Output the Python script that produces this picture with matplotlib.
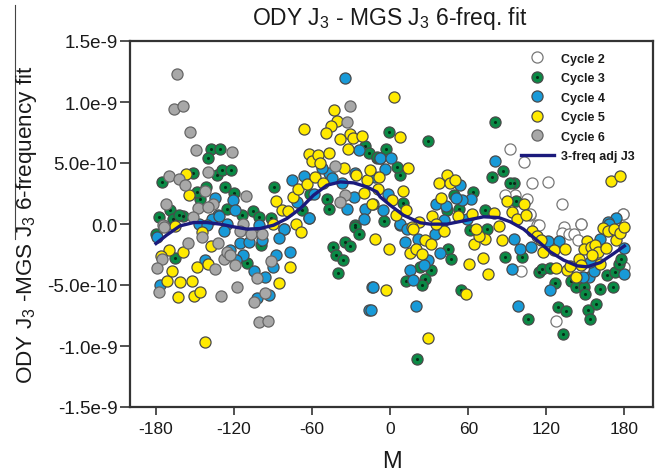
import matplotlib
matplotlib.use("Agg")
import matplotlib.pyplot as plt
from matplotlib.lines import Line2D
import numpy as np

plt.rcParams["font.family"] = ["Liberation Sans", "DejaVu Sans"]
plt.rcParams["mathtext.fontset"] = "custom"
plt.rcParams["mathtext.rm"] = "Liberation Sans"
plt.rcParams["mathtext.default"] = "rm"
plt.rcParams["axes.unicode_minus"] = False

# M in degrees, residuals in units of 1e-10
c2_m = [91.8, 102.5, 109, 121.5, 132, 146.7, 179, 105.1, 96.1, 88.4, 112.8, 133.3, 107.7,
        100.5, 127.7, 146.9, 132, 137.2, 141.5, 144.1, 114.1, 107.7, 180, 179]
c2_j = [6.16, 5.09, 3.37, 3.43, 1.62, 0.04, 0.83, 2.09, 2.36, 2.36, -0.1, -0.24, 0.72,
        -3.87, -7.94, 0.04, -0.7, -0.78, -0.78, -1.33, -0.1, 0.86, -3.51, 0.78]

c3_m = [-137.9, -130.7, -139.9, -151.7, -133.3, -129.2, -122, -175.6, -141.5, -127.1, -120.4,
        -146.1, -148.6, -125.6, -169.2, -177.6, -167.1, -158.9, -162.7, -114, -105.8, -101.2,
        -91.5, -89.2, -48.6, -46.9, -67.9, -61.5, -19.2, -16.6, -10.2, -26.9, -180,
        -165.3, -109.7, -99.2, -44.3, -42, -36.3, -34.5, -31.2, -40.4, -27.4, -24.3,
        80.2, 28.7, -0.8, -3.1, 86.6, 78.2, 95.4, 91.8, 7.7, 5.1, 63.3, 10.2, -5.1, -10.3,
        96.9, 52.5, 73, 48.7, 44.8, 46.9, 31.5, 23, 12.3, 26.4, 24.3, 54.3, 88.4, 101.5,
        114.1, 116.6, 123.1, 126.9, 139.2, 143.1, 148.7, 150, 161.5, 171.3, 166.6, 173,
        175.6, 177.4, 158.4, 151.8, 153.8, 129, 135.4, 105.6, 132.8, 20.5, 61.5, 74.3, 43.6]
c3_j = [6.13, 6.18, 5.37, 4.16, 4.05, 4.41, 4.41, 3.48, 3.04, 3.02, 2.58,
        2.09, 2.63, 1.21, 1.13, 0.61, 0.45, 0.64, 0.72, 0.77, 1.1, 0.58,
        0.5, 3.02, 2.09, 1.21, 1.13, 2.5, 6.4, 5.86, 5.37, -0.1, -0.78,
        -2.77, -3.18, -1.73, -1.87, -2.55, -2.96, -1.46, -1.79, -4, -0.23, -0.86,
        8.34, 6.79, 7.52, 6.18, 4.33, 3.83, 3.37, 3.37, 4, 4.68, 2.63, 1.73, 0.26, 5.5,
        1.87, 1.27, 1.13, 2.36, -2.01, -2.83, -3.73, -3.51, -4.66, -4.52, -4.96, -5.42, -2.69, -2.69,
        -3.92, -3.65, -3.59, -4.82, -4.69, -5.2, -5.15, -5.7, -5.29, -5.2, -4.14, -3.92,
        -3.24, -2.88, -6.52, -7.06, -7.75, -6.79, -7.12, -7.75, -9.03, -11.08, -0.51, -0.37, 1.13]

c4_m = [-35, -24.3, -121.2, -119.4, -134.5, -75.6, -66.6, -62.2, -33.3, -28.1, -26.9, -47.4,
        -44.8, -37.1, -52.5, -58.9, -71.7, -19.2, -132, -137.1, -125.6, -100.7, -20.4, -7.6, -81.5,
        -179.4, -146.8, -141, -131.7, -127.6, -115.3, -108.9, -113.3, -123, -98.6, -82, -85.6,
        -62.7, -87.6, -77.4, -89.7, -142.2, -105, -96.1, -93.5, -102.5, -176.8, -14, -16.1, -118.4,
        80.8, -7.7, 0.5, -3.9, -11.6, -5.7, -2, 62, 55.1, 50.8, 35.4, 43.1, 53.8, 173.8, 167.2,
        7.7, 41, 59, 7.2, 12.8, 34.1, 11, 21.3, 38.4, 28.7, 25.6, 15.4, 17.4, 19.7, -13.3, -14.6,
        97.9, 93.6, 100, 95.4, 108.2, 121.3, 129.5, 123.1, 152.5, 156.9, 180, 180, 168, 161.5,
        148.2, 153.8]
c4_j = [11.98, 6.05, 1.95, 1.18, 2.14, 3.59, 3.92, 0.53, 1.26, 2.22, 4.14, 4.14,
        3.73, 3.32, 4.55, 2.5, 1.81, 1.21, 0.72, 0.45, 0.04, -0.1, 0.39, 5.42, -0.37,
        -1.05, 0.04, -0.1, 0.67, -0.56, -1.54, -1.46, -2.5, -2.15, -1.33, -0.45, -1.13,
        0.5, -2.5, -2.31, -3.51, -2.96, -3.84, -4.33, -5.83, -6.05, -4.96, -5.2, -7.06, -2.96,
        5.17, 5.45, 5.45, 4.49, 3.86, 1.13, 2.5, 2.03, 2, 2.14, 1.68, 1.46, 3.18, 0.53, 0.17,
        -0.1, 0.31, 0.45, -0.01, -0.37, -0.78, -1.46, -1.24, -2.36, -2.91, -3.37, -3.73, -4.6, -6.73, -5.2, -7.06,
        -6.71, -3.7, -2.09, -1.24, -1.87, -1.38, -1.43, -5.42, -4.33, -3.87, -4.11, -1.93, 0.04, -1.19,
        -4.33, -3.1]

c5_m = [-156.6, -154.8, -165.6, -87.6, -83.3, -78.9, -72.5, -74.8, -70.7, -64, -57.9, -51.7,
        -66.1, -43, -40.9, -45.6, -49.7, -38.9, -32.5, -31.2, -28.9, -21.7, -62.5, -59.9, -55.8,
        -53.8, -47.1, -35.8, -26, -17.9, -15.3, -20.4, -13.3, -8.9,
        -169.7, -159.2, -176, -167.6, -148.6, -140.4, -137.9, -171.7, -161.5, -152.7, -163.3,
        -150.7, -146.3, -142.2, -76.9, -85.3, -68.4, -144.3, -90.2, -11.5,
        3.3, 7.7, 13.6, 37.2, 43.6, 46.1, 50, 39, 9.5, 1.3, -9.5, -14.1, 12, 4.6, 89.7, 102.5,
        93.6, 97.4, 104.6, 79.5, 52, 62.8, 32.5, 169.7, 176.4, 22.5, 16.6, 83.3,
        -0.8, -3.1, 15.4, 19.7, 24.3, 26.4, 31, 28.7, 60.2, 71, 75.1, 58.2, 64.6, 73, 68, 66.1,
        85.9, 41.5, 17.4, 35.1, 109, 112.8, 115.9, 117.4, 125.6, 134.6, 127.4, 135.9, 144.8,
        146.6, 142.8, 138.4, 151.3, 148.7, 154.3, 157.7, 159.5, 155.1, 161.5, 165.9, 173.8,
        163.3, 167.2, 171.8, 176.4, 180]
c5_j = [4.1, 2.39, -0.15, 1.9, 1.18, 1.1, 0.04, 2.22, 2.9, 3.26, 3.86, 3.32,
        7.82, 9.38, 8.45, 8.07, 7.5, 6.95, 6.18, 7.39, 7.09, 7.2, 5.75, 5.2, 5.69,
        4.96, 5.8, 4.55, 4, 3.64, 4.44, 2.55, 1.68, 3.86,
        -2.12, -2.31, -2.61, -3.84, -3.51, -3.24, -1.82, -4.71, -4.74, -4.66, -6,
        -5.92, -5.59, -9.66, -3.51, -4.8, -0.67, -0.64, 0.01, -1.19,
        10.42, 7.14, 4.55, 3.34, 4.05, 3.32, 3.59, 2.17, 2.69, 2, 2.9, 1.68, 1.13, 0.77, 1.9, 1.65,
        1, 0.37, 0.72, 0.91, 0.64, 0.86, 0.67, 3.51, 3.92, 0.17, -0.24, -0.15,
        -2.09, -5.42, -2.36, -2.06, -2.47, -1.33, -1.6, -9.33, -3.24, -2.75, -4.11, -5.7, -1.6, -1.22, -1, -0.42,
        -1.3, -0.56, -0.37, 0.04, -0.59, -0.97, -1.33, -2.28, -2.15, -2.06, -3.59, -3.78, -2.83,
        -3.37, -4.33, -3.43, -1.38, -2.06, -1.87, -1.74, -2.28, -2.55, -3.24, -1.95, -1.33,
        -0.29, -0.59, -0.37, -0.7, -0.23]

c6_m = [-163.8, -166, -159.4, -153.5, -148.9, -121.5, -170.2, -140.4, -162, -157.4, -142.2,
        -111.2, -172.2, -136.3, -147.4, -139.7, -151.2, -113.3, -174.3,
        -33.3, -30.7, -42.2, -35, -38.4,
        -173.8, -144.8, -155.3, -132.2, -175.6, -179.4, -134.5, -128.1, -125.6, -123.5, -119.2,
        -117.9, -102.5, -130.2, -177.6, -96.3, -104.8, -100.7, -94, -91.7, -115.3, -107.1, -98.4]
c6_j = [12.28, 9.46, 9.68, 7.52, 6.05, 5.91, 3.94, 4.27, 3.67, 3.23, 2.71,
        2.28, 1.6, 1.68, 1.35, 1.4, 0.58, 0.04, -0.1,
        8.37, 9.68, 4.74, 2.41, 1.81,
        -0.23, -1.05, -1.52, -1.54, -2.88, -3.57, -3.7, -2.88, -2.28, -2.55, -3.32,
        -5.15, -4.39, -5.92, -5.56, -5.67, -6.43, -8.02, -7.91, -3.05, -0.59, -0.78, -0.86]

fit_m = [-180, -171.7, -161.5, -151, -141, -130.7, -120.4, -110, -100, -89.7, -79.4, -69,
         -58.9, -48.6, -38.4, -28, -17.9, -10.2, -7.7, 0, 10.2, 23, 30.8, 43.6, 56.4, 71.8,
         83.3, 92.3, 102.5, 112.8, 123, 133.3, 143.6, 151.3, 161.5, 171.8, 180]
fit_j = [-1.6, -0.9, -0.15, 0.12, 0.12, -0.01, -0.23, -0.42, -0.37, -0.1, 0.45, 1.27,
         2.36, 3.18, 3.45, 3.37, 3.04, 2.63, 2.22, 1.54, 0.72, 0.1, -0.01, -0.01, 0.26, 0.59,
         0.53, 0.18, -0.42, -1.33, -2.28, -2.96, -3.43, -3.51, -3.16, -2.42, -1.8]

xticks = [-180, -120, -60, 0, 60, 120, 180]
yticks = [-1.5e-9, -1.0e-9, -5.0e-10, 0.0, 5.0e-10, 1.0e-9, 1.5e-9]
ylabels = ["-1.5e-9", "-1.0e-9", "-5.0e-10", "0.0", "5.0e-10", "1.0e-9", "1.5e-9"]

EDGE = "#4a4a4a"
GREEN = "#0a8a45"
BLUE = "#189ad8"
YELLOW = "#ffea00"
GRAY = "#a8a8a8"
NAVY = "#1b1a7c"
TEXT = "#1a1a1a"

fig = plt.figure(figsize=(6.62, 4.77), dpi=100)
ax = fig.add_axes([130 / 662, 1 - 408 / 477, 523 / 662, 366 / 477])

kw = dict(linestyle="none", marker="o", ms=8, mew=0.9, mec=EDGE)
ax.plot(c2_m, np.array(c2_j) * 1e-10, mfc="white", **dict(kw, mec="#777777"))
ax.plot(c3_m, np.array(c3_j) * 1e-10, mfc=GREEN, **kw)
ax.plot(c3_m, np.array(c3_j) * 1e-10, ls="none", marker="o", ms=2.2, mfc="#062b18", mec="none")
ax.plot(c4_m, np.array(c4_j) * 1e-10, mfc=BLUE, **kw)
ax.plot(c5_m, np.array(c5_j) * 1e-10, mfc=YELLOW, **kw)
ax.plot(c6_m, np.array(c6_j) * 1e-10, mfc=GRAY, **dict(kw, mec="#666666"))
ax.plot(fit_m, np.array(fit_j) * 1e-10, color=NAVY, lw=2.4, solid_joinstyle="round")

ax.set_xlim(-200, 202)
ax.set_ylim(-1.5e-9, 1.5e-9)
ax.set_xticks(xticks)
ax.set_yticks(yticks)
ax.set_yticklabels(ylabels)
ax.tick_params(axis="x", length=6, width=1.2, color="#333333", labelsize=12.5, labelcolor=TEXT, pad=4)
ax.tick_params(axis="y", length=7, width=1.2, color="#333333", labelsize=13.5, labelcolor=TEXT, pad=2)
for s in ax.spines.values():
    s.set_linewidth(1.6)
    s.set_color("#333333")

ax.set_xlabel("M", fontsize=17, labelpad=10, color=TEXT)
fig.text(27 / 662, 1 - 225 / 477, "ODY J$_3$ -MGS J$_3$ 6-frequency fit", rotation=90,
         ha="center", va="center", fontsize=16.2, color=TEXT)
fig.text(390 / 662, 1 - 19 / 477, "ODY J$_3$ - MGS J$_3$ 6-freq. fit", ha="center", va="center",
         fontsize=16.5, color=TEXT)

# crop edge rule on the left of the page
fig.add_artist(Line2D([15 / 662, 15 / 662], [1 - 6 / 477, 1 - 240 / 477], color="#444444", lw=0.8))

handles = [
    Line2D([], [], mfc="white", **dict(kw, mec="#777777")),
    (Line2D([], [], mfc=GREEN, **kw), Line2D([], [], ls="none", marker="o", ms=2.2, mfc="#062b18", mec="none")),
    Line2D([], [], mfc=BLUE, **kw),
    Line2D([], [], mfc=YELLOW, **kw),
    Line2D([], [], mfc=GRAY, **dict(kw, mec="#666666")),
    Line2D([], [], color=NAVY, lw=2.4),
]
labels = ["Cycle 2", "Cycle 3", "Cycle 4", "Cycle 5", "Cycle 6", "3-freq adj J3"]
ax.legend(handles, labels, loc="upper left", bbox_to_anchor=(0.748, 0.968), frameon=False,
          prop=dict(size=9, weight="bold"), labelspacing=0.6, handlelength=2.6, handletextpad=0.55,
          borderpad=0, borderaxespad=0, labelcolor=TEXT)

fig.savefig("out.png", dpi=100)
